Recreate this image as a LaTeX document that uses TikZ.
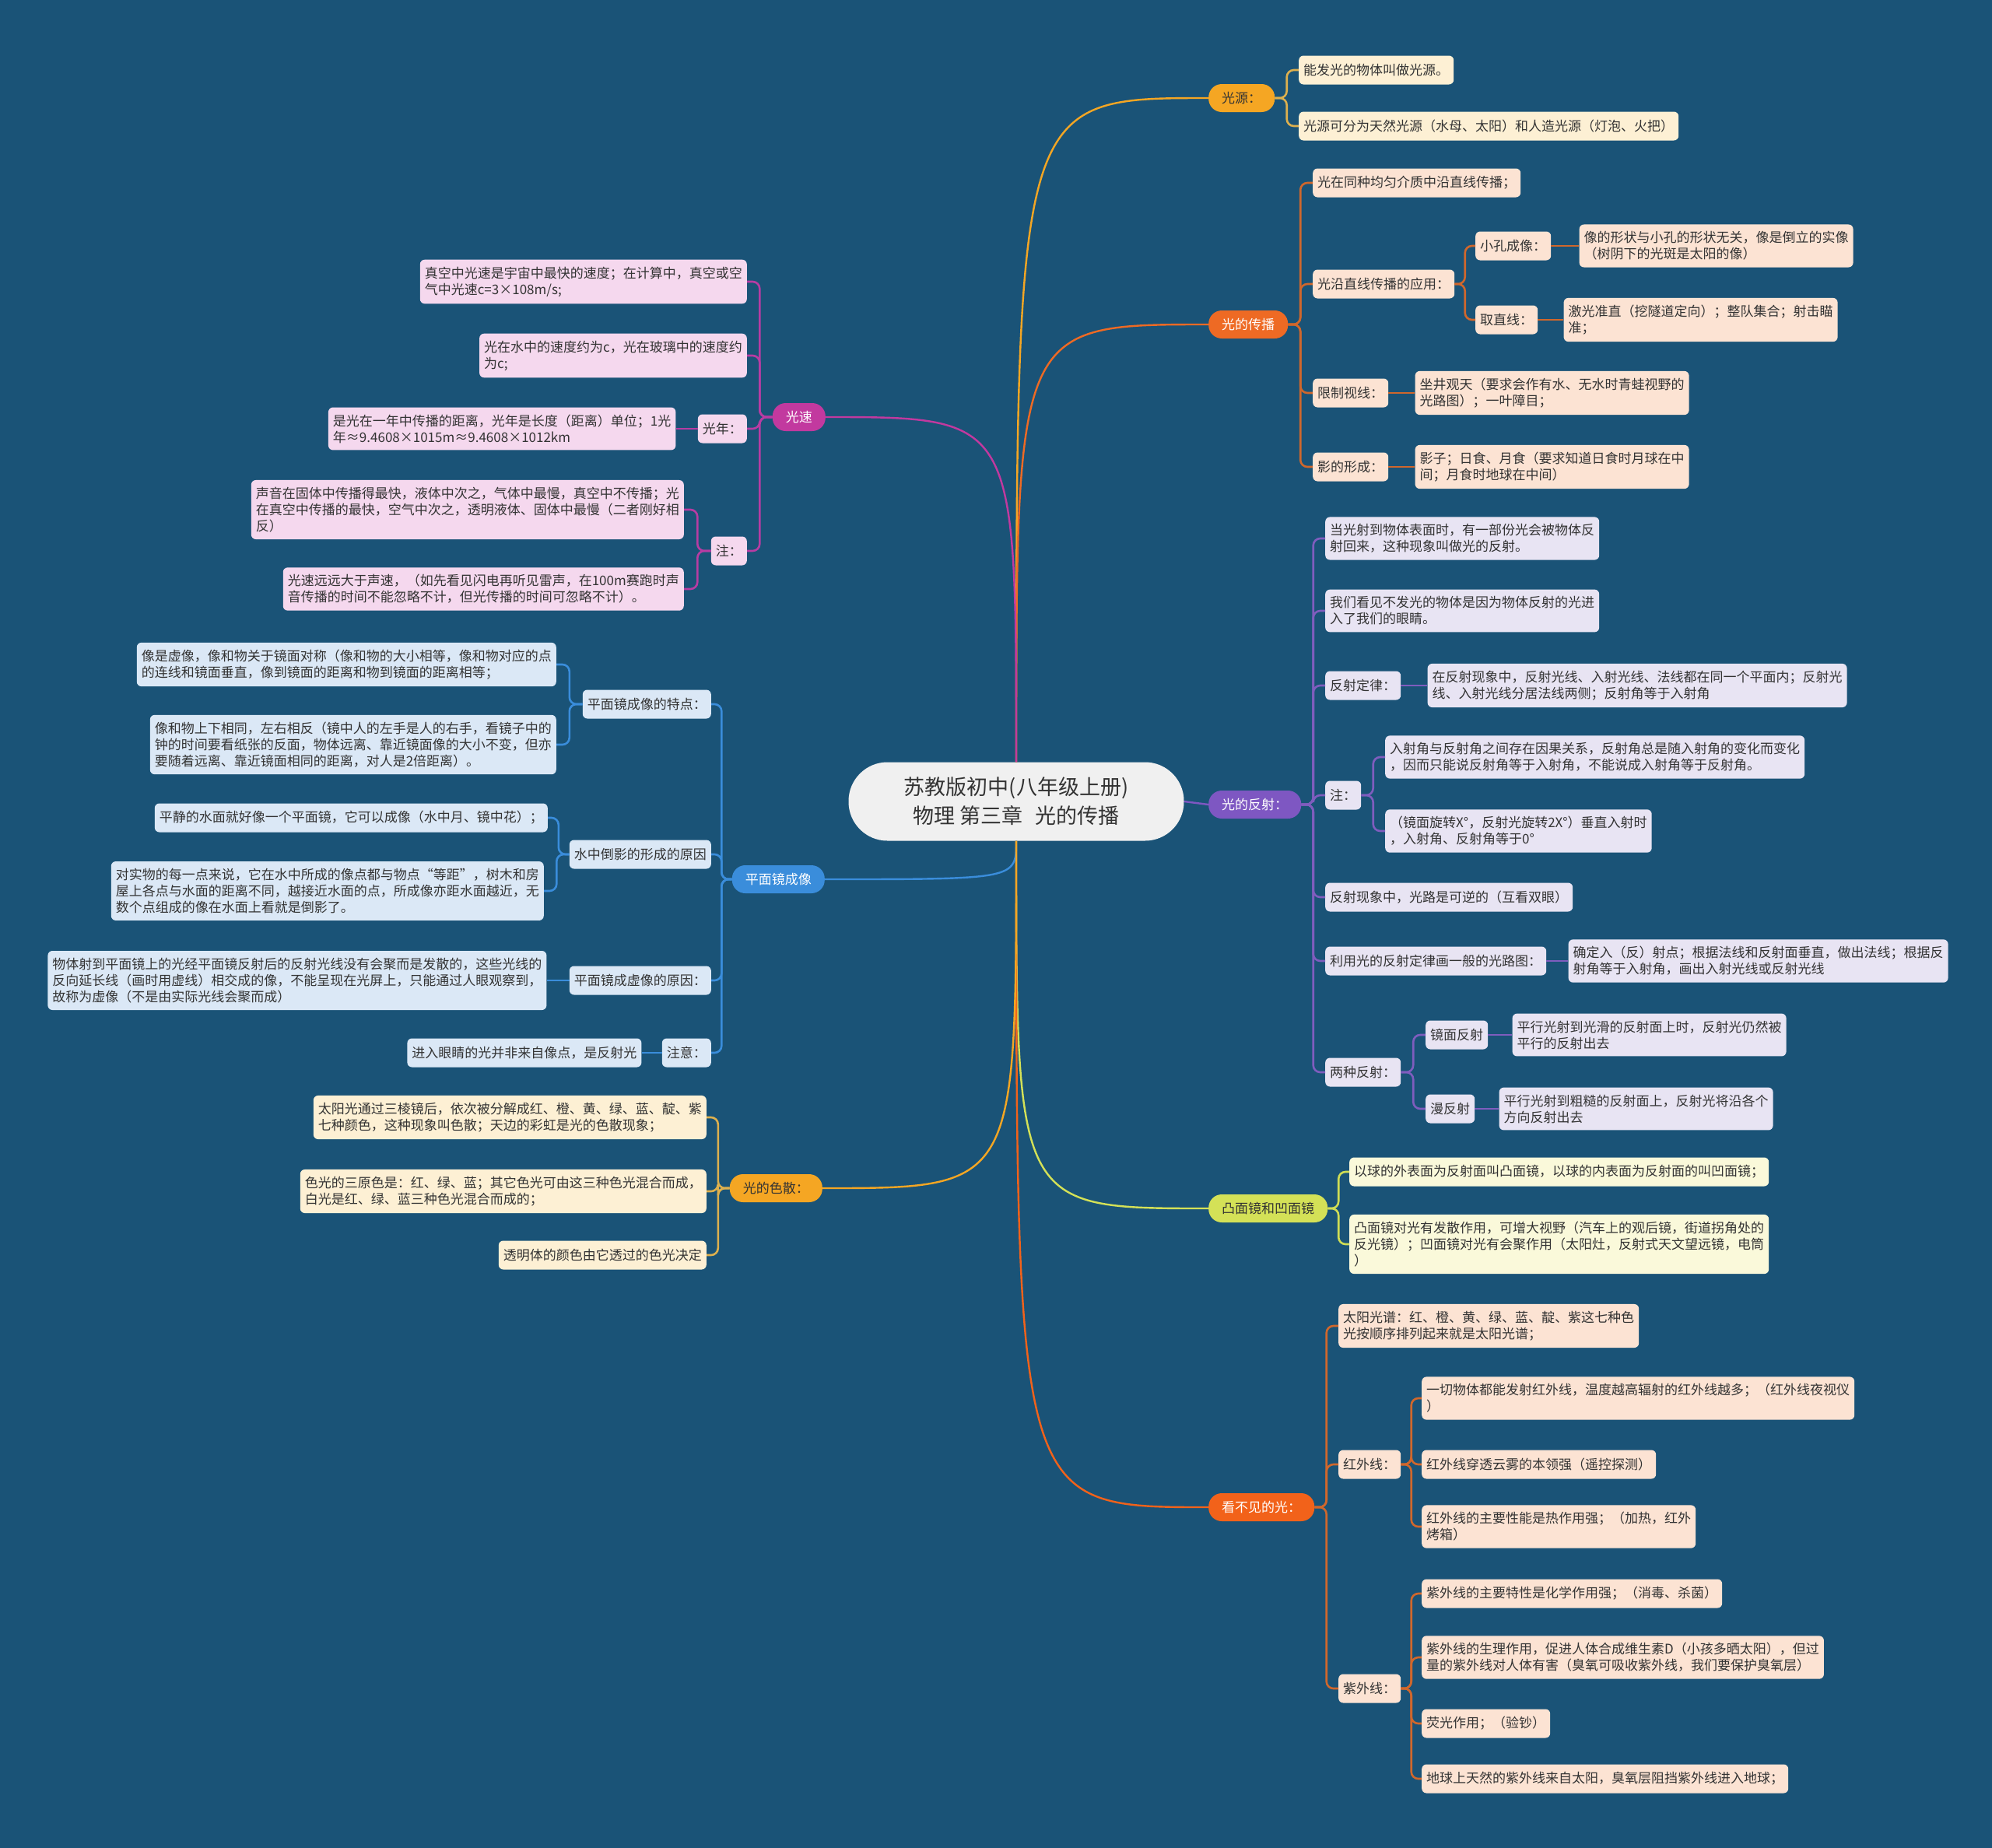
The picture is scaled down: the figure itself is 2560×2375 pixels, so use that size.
\documentclass[tikz,border=0pt]{standalone}
\usepackage{fontspec}
\usepackage{tikz}
\usetikzlibrary{calc}
\newfontfamily\cjk{Noto Sans CJK SC}

\definecolor{bgblue}{RGB}{26,83,119}
\definecolor{rootgray}{RGB}{240,240,240}
\definecolor{txtdark}{RGB}{51,51,51}
% branch fills
\definecolor{cSrc}{HTML}{F5A623}
\definecolor{cProp}{HTML}{EE6A24}
\definecolor{cRefl}{HTML}{7E57C2}
\definecolor{cMir}{HTML}{D4E157}
\definecolor{cInv}{HTML}{F2621A}
\definecolor{cSpd}{HTML}{C2399F}
\definecolor{cPln}{HTML}{3A8DDB}
\definecolor{cDsp}{HTML}{F5A623}
% leaf fills
\definecolor{fSrc}{HTML}{FDF0D4}
\definecolor{fProp}{HTML}{FCE3D3}
\definecolor{fRefl}{HTML}{E8E4F3}
\definecolor{fMir}{HTML}{FAF9DA}
\definecolor{fSpd}{HTML}{F5D8EE}
\definecolor{fPln}{HTML}{DBE8F6}
% bracket lines
\definecolor{lnSrc}{HTML}{DDB04E}
\definecolor{lnProp}{HTML}{D0672C}
\definecolor{lnRefl}{HTML}{7F5DBE}
\definecolor{lnMir}{HTML}{CFDD55}
\definecolor{lnSpd}{HTML}{B83CA3}
\definecolor{lnPln}{HTML}{3A8DDB}

\tikzset{
  root/.style={fill=rootgray, rounded corners=50pt, minimum width=431pt, minimum height=101pt,
    align=center, text=txtdark, font=\cjk\fontsize{27}{37}\selectfont},
  topic/.style={fill=#1, rounded corners=17pt, inner xsep=17pt, inner ysep=9pt, minimum height=36pt,
    text=txtdark, font=\cjk\fontsize{17}{21}\selectfont},
  leaf/.style={fill=#1, rounded corners=6pt, inner xsep=6pt, inner ysep=9pt, minimum height=37pt,
    align=left, text=txtdark, font=\cjk\fontsize{17}{21}\selectfont},
  main/.style={draw=#1, line width=2.4pt},
  sub/.style={draw=#1, line width=2.6pt, rounded corners=9pt},
  brk/.style={to path={-- ($(\tikztostart)!.5!(\tikztostart -| \tikztotarget)$) |- (\tikztotarget)}},
}

\begin{document}
\begin{tikzpicture}[x=1pt,y=-1pt]
  \fill[bgblue] (0,0) rectangle (2560,2375);
  \useasboundingbox (0,0) rectangle (2560,2375);

  % centre
  \node[root] (ctr) at (1306,1030) {苏教版初中(八年级上册)\\物理 第三章\hspace{0.6em}光的传播};

  % right side topics
  \node[topic=cSrc, anchor=west] (lsrc) at (1553,126) {光源：};
  \node[topic=cProp, text=white, anchor=west] (lprop) at (1553,417) {光的传播};
  \node[topic=cRefl, text=white, anchor=west] (lrefl) at (1553,1034) {光的反射：};
  \node[topic=cMir, anchor=west] (lmir) at (1553,1553) {凸面镜和凹面镜};
  \node[topic=cInv, text=white, anchor=west] (linv) at (1553,1937) {看不见的光：};
  % left side topics
  \node[topic=cSpd, text=white, anchor=east] (lspd) at (1061,536) {光速};
  \node[topic=cPln, text=white, anchor=east] (lpln) at (1060,1130) {平面镜成像};
  \node[topic=cDsp, anchor=east] (ldsp) at (1057,1527) {光的色散：};

  % 光源
  \node[leaf=fSrc, anchor=west] (src1) at (1669,90) {能发光的物体叫做光源。};
  \node[leaf=fSrc, anchor=west] (src2) at (1669,162) {光源可分为天然光源（水母、太阳）和人造光源（灯泡、火把）};

  % 光的传播
  \node[leaf=fProp, anchor=west] (prA) at (1687,235) {光在同种均匀介质中沿直线传播；};
  \node[leaf=fProp, anchor=west] (prB) at (1687,365) {光沿直线传播的应用：};
  \node[leaf=fProp, anchor=west] (prBa) at (1896,316) {小孔成像：};
  \node[leaf=fProp, anchor=west] (prBaT) at ([xshift=36pt]prBa.east) {像的形状与小孔的形状无关，像是倒立的实像\\（树阴下的光斑是太阳的像）};
  \node[leaf=fProp, anchor=west] (prBb) at (1896,411) {取直线：};
  \node[leaf=fProp, anchor=west] (prBbT) at ([xshift=33pt]prBb.east) {激光准直（挖隧道定向）；整队集合；射击瞄\\准；};
  \node[leaf=fProp, anchor=west] (prC) at (1687,505) {限制视线：};
  \node[leaf=fProp, anchor=west] (prCT) at ([xshift=34pt]prC.east) {坐井观天（要求会作有水、无水时青蛙视野的\\光路图）；一叶障目；};
  \node[leaf=fProp, anchor=west] (prD) at (1687,600) {影的形成：};
  \node[leaf=fProp, anchor=west] (prDT) at ([xshift=34pt]prD.east) {影子；日食、月食（要求知道日食时月球在中\\间；月食时地球在中间）};

  % 光的反射
  \node[leaf=fRefl, anchor=west] (rfA) at (1703,692) {当光射到物体表面时，有一部份光会被物体反\\射回来，这种现象叫做光的反射。};
  \node[leaf=fRefl, anchor=west] (rfB) at (1703,785) {我们看见不发光的物体是因为物体反射的光进\\入了我们的眼睛。};
  \node[leaf=fRefl, anchor=west] (rfC) at (1703,881) {反射定律：};
  \node[leaf=fRefl, anchor=west] (rfCT) at ([xshift=34pt]rfC.east) {在反射现象中，反射光线、入射光线、法线都在同一个平面内；反射光\\线、入射光线分居法线两侧；反射角等于入射角};
  \node[leaf=fRefl, anchor=west] (rfD) at (1703,1022) {注：};
  \node[leaf=fRefl, anchor=west] (rfDa) at (1780,973) {入射角与反射角之间存在因果关系，反射角总是随入射角的变化而变化\\，因而只能说反射角等于入射角，不能说成入射角等于反射角。};
  \node[leaf=fRefl, anchor=west] (rfDb) at (1780,1068) {（镜面旋转X°，反射光旋转2X°）垂直入射时\\，入射角、反射角等于0°};
  \node[leaf=fRefl, anchor=west] (rfE) at (1703,1153) {反射现象中，光路是可逆的（互看双眼）};
  \node[leaf=fRefl, anchor=west] (rfF) at (1703,1235) {利用光的反射定律画一般的光路图：};
  \node[leaf=fRefl, anchor=west] (rfFT) at ([xshift=28pt]rfF.east) {确定入（反）射点；根据法线和反射面垂直，做出法线；根据反\\射角等于入射角，画出入射光线或反射光线};
  \node[leaf=fRefl, anchor=west] (rfG) at (1703,1378) {两种反射：};
  \node[leaf=fRefl, anchor=west] (rfGa) at (1832,1330) {镜面反射};
  \node[leaf=fRefl, anchor=west] (rfGaT) at ([xshift=31pt]rfGa.east) {平行光射到光滑的反射面上时，反射光仍然被\\平行的反射出去};
  \node[leaf=fRefl, anchor=west] (rfGb) at (1832,1425) {漫反射};
  \node[leaf=fRefl, anchor=west] (rfGbT) at ([xshift=31pt]rfGb.east) {平行光射到粗糙的反射面上，反射光将沿各个\\方向反射出去};

  % 凸面镜和凹面镜
  \node[leaf=fMir, anchor=west] (mrA) at (1734,1506) {以球的外表面为反射面叫凸面镜，以球的内表面为反射面的叫凹面镜；};
  \node[leaf=fMir, anchor=west] (mrB) at (1734,1599) {凸面镜对光有发散作用，可增大视野（汽车上的观后镜，街道拐角处的\\反光镜）；凹面镜对光有会聚作用（太阳灶，反射式天文望远镜，电筒\\）};

  % 看不见的光
  \node[leaf=fProp, anchor=west] (ivA) at (1720,1704) {太阳光谱：红、橙、黄、绿、蓝、靛、紫这七种色\\光按顺序排列起来就是太阳光谱；};
  \node[leaf=fProp, anchor=west] (ivB) at (1720,1882) {红外线：};
  \node[leaf=fProp, anchor=west] (ivBa) at (1827,1797) {一切物体都能发射红外线，温度越高辐射的红外线越多；（红外线夜视仪\\）};
  \node[leaf=fProp, anchor=west] (ivBb) at (1827,1882) {红外线穿透云雾的本领强（遥控探测）};
  \node[leaf=fProp, anchor=west] (ivBc) at (1827,1962) {红外线的主要性能是热作用强；（加热，红外\\烤箱）};
  \node[leaf=fProp, anchor=west] (ivC) at (1720,2170) {紫外线：};
  \node[leaf=fProp, anchor=west] (ivCa) at (1827,2048) {紫外线的主要特性是化学作用强；（消毒、杀菌）};
  \node[leaf=fProp, anchor=west] (ivCb) at (1827,2130) {紫外线的生理作用，促进人体合成维生素D（小孩多晒太阳），但过\\量的紫外线对人体有害（臭氧可吸收紫外线，我们要保护臭氧层）};
  \node[leaf=fProp, anchor=west] (ivCc) at (1827,2215) {荧光作用；（验钞）};
  \node[leaf=fProp, anchor=west] (ivCd) at (1827,2286) {地球上天然的紫外线来自太阳，臭氧层阻挡紫外线进入地球；};

  % 光速
  \node[leaf=fSpd, anchor=east] (spA) at (960,362) {真空中光速是宇宙中最快的速度；在计算中，真空或空\\气中光速c=3×108m/s;};
  \node[leaf=fSpd, anchor=east] (spB) at (960,457) {光在水中的速度约为c，光在玻璃中的速度约\\为c;};
  \node[leaf=fSpd, anchor=east] (spC) at (960,551) {光年：};
  \node[leaf=fSpd, anchor=east] (spCT) at ([xshift=-28pt]spC.west) {是光在一年中传播的距离，光年是长度（距离）单位；1光\\年≈9.4608×1015m≈9.4608×1012km};
  \node[leaf=fSpd, anchor=east] (spD) at (960,708) {注：};
  \node[leaf=fSpd, anchor=east] (spDa) at (879,655) {声音在固体中传播得最快，液体中次之，气体中最慢，真空中不传播；光\\在真空中传播的最快，空气中次之，透明液体、固体中最慢（二者刚好相\\反）};
  \node[leaf=fSpd, anchor=east] (spDb) at (879,757) {光速远远大于声速，（如先看见闪电再听见雷声，在100m赛跑时声\\音传播的时间不能忽略不计，但光传播的时间可忽略不计）。};

  % 平面镜成像
  \node[leaf=fPln, anchor=east] (plA) at (914,905) {平面镜成像的特点：};
  \node[leaf=fPln, anchor=east] (plAa) at (715,854) {像是虚像，像和物关于镜面对称（像和物的大小相等，像和物对应的点\\的连线和镜面垂直，像到镜面的距离和物到镜面的距离相等；};
  \node[leaf=fPln, anchor=east] (plAb) at (715,957) {像和物上下相同，左右相反（镜中人的左手是人的右手，看镜子中的\\钟的时间要看纸张的反面，物体远离、靠近镜面像的大小不变，但亦\\要随着远离、靠近镜面相同的距离，对人是2倍距离）。};
  \node[leaf=fPln, anchor=east] (plB) at (914,1098) {水中倒影的形成的原因};
  \node[leaf=fPln, anchor=east] (plBa) at (704,1051) {平静的水面就好像一个平面镜，它可以成像（水中月、镜中花）；};
  \node[leaf=fPln, anchor=east] (plBb) at (699,1145) {对实物的每一点来说，它在水中所成的像点都与物点“等距”，树木和房\\屋上各点与水面的距离不同，越接近水面的点，所成像亦距水面越近，无\\数个点组成的像在水面上看就是倒影了。};
  \node[leaf=fPln, anchor=east] (plC) at (914,1260) {平面镜成虚像的原因：};
  \node[leaf=fPln, anchor=east] (plCT) at ([xshift=-29pt]plC.west) {物体射到平面镜上的光经平面镜反射后的反射光线没有会聚而是发散的，这些光线的\\反向延长线（画时用虚线）相交成的像，不能呈现在光屏上，只能通过人眼观察到，\\故称为虚像（不是由实际光线会聚而成）};
  \node[leaf=fPln, anchor=east] (plD) at (914,1353) {注意：};
  \node[leaf=fPln, anchor=east] (plDT) at ([xshift=-26pt]plD.west) {进入眼睛的光并非来自像点，是反射光};

  % 光的色散
  \node[leaf=fSrc, anchor=east] (dsA) at (908,1436) {太阳光通过三棱镜后，依次被分解成红、橙、黄、绿、蓝、靛、紫\\七种颜色，这种现象叫色散；天边的彩虹是光的色散现象；};
  \node[leaf=fSrc, anchor=east] (dsB) at (908,1531) {色光的三原色是：红、绿、蓝；其它色光可由这三种色光混合而成，\\白光是红、绿、蓝三种色光混合而成的；};
  \node[leaf=fSrc, anchor=east] (dsC) at (908,1613) {透明体的颜色由它透过的色光决定};

  % main curves
  \foreach \tgt/\col in {lsrc/cSrc, lprop/cProp}
    \draw[main=\col] (ctr.north) .. controls (ctr.north |- \tgt.west) .. (\tgt.west);
  \foreach \tgt/\col in {lmir/cMir, linv/cInv}
    \draw[main=\col] (ctr.south) .. controls (ctr.south |- \tgt.west) .. (\tgt.west);
  \draw[main=cSpd] (ctr.north) .. controls (ctr.north |- lspd.east) .. (lspd.east);
  \foreach \tgt/\col in {lpln/cPln, ldsp/cDsp}
    \draw[main=\col] (ctr.south) .. controls (ctr.south |- \tgt.east) .. (\tgt.east);
  \draw[main=cRefl] (ctr.east) -- (lrefl.west);

  % brackets, right side
  \foreach \c in {src1,src2} \draw[sub=lnSrc] (lsrc.east) to[brk] (\c.west);
  \foreach \c in {prA,prB,prC,prD} \draw[sub=lnProp] (lprop.east) to[brk] (\c.west);
  \foreach \c in {prBa,prBb} \draw[sub=lnProp] (prB.east) to[brk] (\c.west);
  \foreach \a/\b in {prBa/prBaT, prBb/prBbT, prC/prCT, prD/prDT} \draw[sub=lnProp] (\a) -- (\b);
  \foreach \c in {rfA,rfB,rfC,rfD,rfE,rfF,rfG} \draw[sub=lnRefl] (lrefl.east) to[brk] (\c.west);
  \foreach \c in {rfDa,rfDb} \draw[sub=lnRefl] (rfD.east) to[brk] (\c.west);
  \foreach \c in {rfGa,rfGb} \draw[sub=lnRefl] (rfG.east) to[brk] (\c.west);
  \foreach \a/\b in {rfC/rfCT, rfF/rfFT, rfGa/rfGaT, rfGb/rfGbT} \draw[sub=lnRefl] (\a) -- (\b);
  \foreach \c in {mrA,mrB} \draw[sub=lnMir] (lmir.east) to[brk] (\c.west);
  \foreach \c in {ivA,ivB,ivC} \draw[sub=lnProp] (linv.east) to[brk] (\c.west);
  \foreach \c in {ivBa,ivBb,ivBc} \draw[sub=lnProp] (ivB.east) to[brk] (\c.west);
  \foreach \c in {ivCa,ivCb,ivCc,ivCd} \draw[sub=lnProp] (ivC.east) to[brk] (\c.west);

  % brackets, left side
  \foreach \c in {spA,spB,spC,spD} \draw[sub=lnSpd] (lspd.west) to[brk] (\c.east);
  \foreach \c in {spDa,spDb} \draw[sub=lnSpd] (spD.west) to[brk] (\c.east);
  \draw[sub=lnSpd] (spC) -- (spCT);
  \foreach \c in {plA,plB,plC,plD} \draw[sub=lnPln] (lpln.west) to[brk] (\c.east);
  \foreach \c in {plAa,plAb} \draw[sub=lnPln] (plA.west) to[brk] (\c.east);
  \foreach \c in {plBa,plBb} \draw[sub=lnPln] (plB.west) to[brk] (\c.east);
  \foreach \a/\b in {plC/plCT, plD/plDT} \draw[sub=lnPln] (\a) -- (\b);
  \foreach \c in {dsA,dsB,dsC} \draw[sub=lnSrc] (ldsp.west) to[brk] (\c.east);
\end{tikzpicture}
\end{document}
